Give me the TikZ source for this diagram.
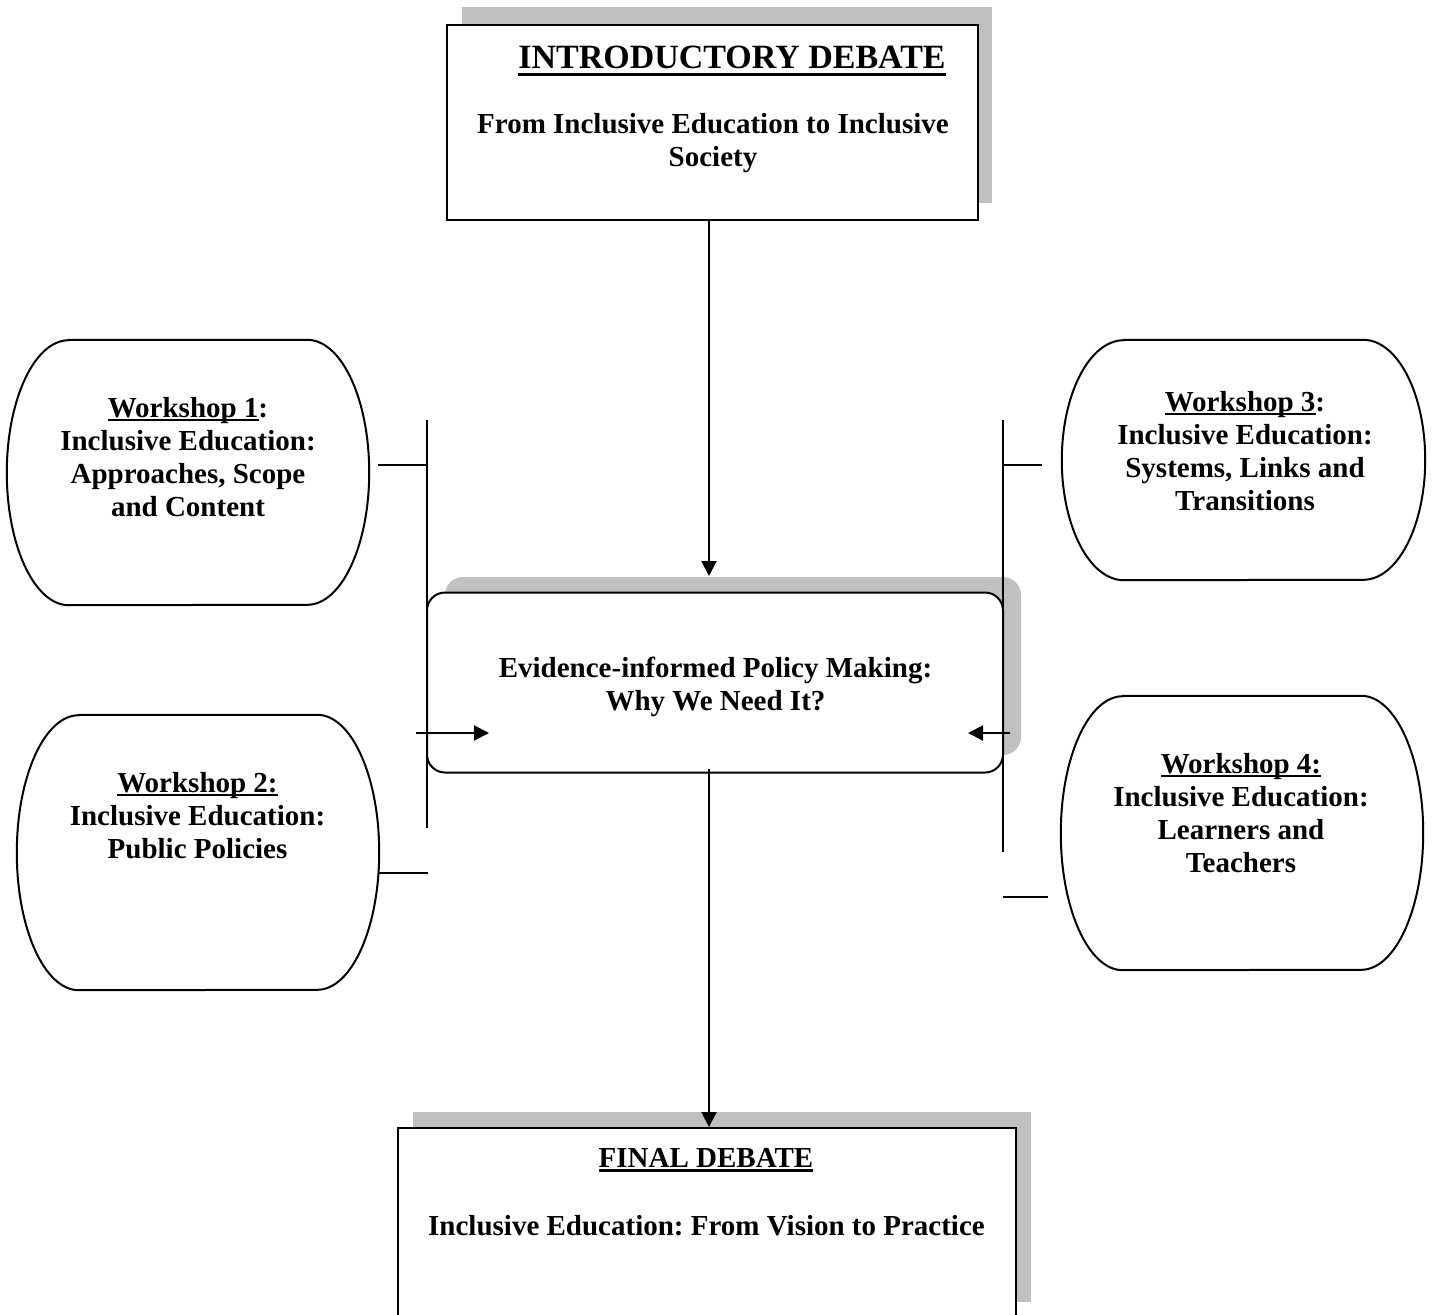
\documentclass[tikz,border=0pt]{standalone}
\usepackage{fontspec}
\setmainfont{Liberation Serif}
\usetikzlibrary{arrows.meta}
\definecolor{shadowgray}{RGB}{192,192,192}
\frenchspacing
\newcommand{\myul}[3]{\setbox0\hbox{#3}\leavevmode\rlap{\raisebox{-#1}{\rule{\wd0}{#2}}}\box0}
\newcommand{\wsoutline}[3]{%
  \draw[line] ([xshift=#2pt]#1.north west) -- ([xshift=-#2pt]#1.north east)
    arc[start angle=90,end angle=-90,x radius=#2pt,y radius=#3pt]
    -- ([xshift=#2pt]#1.south west)
    arc[start angle=270,end angle=90,x radius=#2pt,y radius=#3pt] -- cycle;}
\tikzset{
  line/.style={line width=2pt, draw=black},
  arr/.style={line, -{Triangle[length=15pt,width=15pt]}},
  shadowbox/.style={fill=shadowgray, draw=none},
  box/.style={draw=black, line width=2pt, fill=white, inner sep=0pt},
  wsh/.style={draw=none, inner sep=0pt, minimum width=362pt},
  txt/.style={font=\bfseries\fontsize{29}{33}\selectfont\frenchspacing, align=center, inner sep=0pt, anchor=base},
  titletxt/.style={font=\bfseries\fontsize{34}{40}\selectfont, align=center, inner sep=0pt, anchor=base}
}
\begin{document}
\begin{tikzpicture}[x=1pt,y=-1pt]
\useasboundingbox (0,0) rectangle (1437,1314);
\clip (0,0) rectangle (1437,1314);

% introductory debate
\fill[shadowbox] (462,7) rectangle (992,203);
\node[box, minimum width=531pt, minimum height=195pt] (intro) at (712.5,122.5) {};
\node[titletxt] (introtitle) at (732,68.5) {\myul{7pt}{2.7pt}{INTRODUCTORY DEBATE}};
\node[txt] (introbody) at (713,166.5) {From Inclusive Education to Inclusive\\Society};

% central box
\fill[shadowbox, rounded corners=18pt] (445,577) rectangle (1021,755);
\node[box, rounded corners=18pt, minimum width=576pt, minimum height=180pt] (evid) at (715,682.5) {};
\node[txt] (evidtext) at (715.5,710) {Evidence-informed Policy Making:\\Why We Need It?};

% final debate
\fill[shadowbox] (413,1112) rectangle (1031,1302);
\node[box, minimum width=618pt, minimum height=212pt] (final) at (707,1234) {};
\node[txt] (finaltitle) at (706,1167) {\myul{4.5pt}{2.4pt}{FINAL DEBATE}};
\node[txt] (finalbody) at (706.5,1235) {Inclusive Education: From Vision to Practice};

% workshops
\node[wsh, minimum height=265pt] (w1) at (188,472.5) {};
\wsoutline{w1}{62}{132.5}
\node[txt] (w1text) at (188,516) {\myul{4pt}{2pt}{Workshop 1}:\\Inclusive Education:\\Approaches, Scope\\and Content};

\node[wsh, minimum height=275pt] (w2) at (198,852.5) {};
\wsoutline{w2}{62}{137.5}
\node[txt] (w2text) at (197.5,858) {\myul{4pt}{2pt}{Workshop 2:}\\Inclusive Education:\\Public Policies};

\node[wsh, minimum width=363pt, minimum height=240pt] (w3) at (1243.5,460) {};
\wsoutline{w3}{62}{120}
\node[txt] (w3text) at (1245,510) {\myul{4pt}{2pt}{Workshop 3}:\\Inclusive Education:\\Systems, Links and\\Transitions};

\node[wsh, minimum height=274pt] (w4) at (1242,833) {};
\wsoutline{w4}{62}{137}
\node[txt] (w4text) at (1241,872) {\myul{4pt}{2pt}{Workshop 4:}\\Inclusive Education:\\Learners and\\Teachers};

% connectors: main flow
\coordinate (ctop) at (709,576);
\draw[arr] (intro.south -| ctop) -- (ctop);
\coordinate (cbot) at (709,769);
\draw[arr] (cbot) -- (final.north -| cbot);

% left bracket
\coordinate (lvtop) at (427,420);
\coordinate (lvbot) at (427,828);
\draw[line] (lvtop) -- (lvbot);
\coordinate (l1) at (378,465);
\draw[line] (l1) -- (l1 -| lvtop);
\coordinate (l2) at (428,873);
\draw[line] (w2.east |- l2) -- (l2);
\coordinate (la1) at (416,733);
\coordinate (la2) at (489,733);
\draw[arr] (la1) -- (la2);

% right bracket
\coordinate (rvtop) at (1003,420);
\coordinate (rvbot) at (1003,852);
\draw[line] (rvtop) -- (rvbot);
\coordinate (r1) at (1042,465);
\draw[line] (r1 -| rvtop) -- (r1);
\coordinate (r2) at (1048,897);
\draw[line] (r2 -| rvtop) -- (r2);
\coordinate (ra1) at (1010,733);
\coordinate (ra2) at (968,733);
\draw[arr] (ra1) -- (ra2);
\end{tikzpicture}
\end{document}
